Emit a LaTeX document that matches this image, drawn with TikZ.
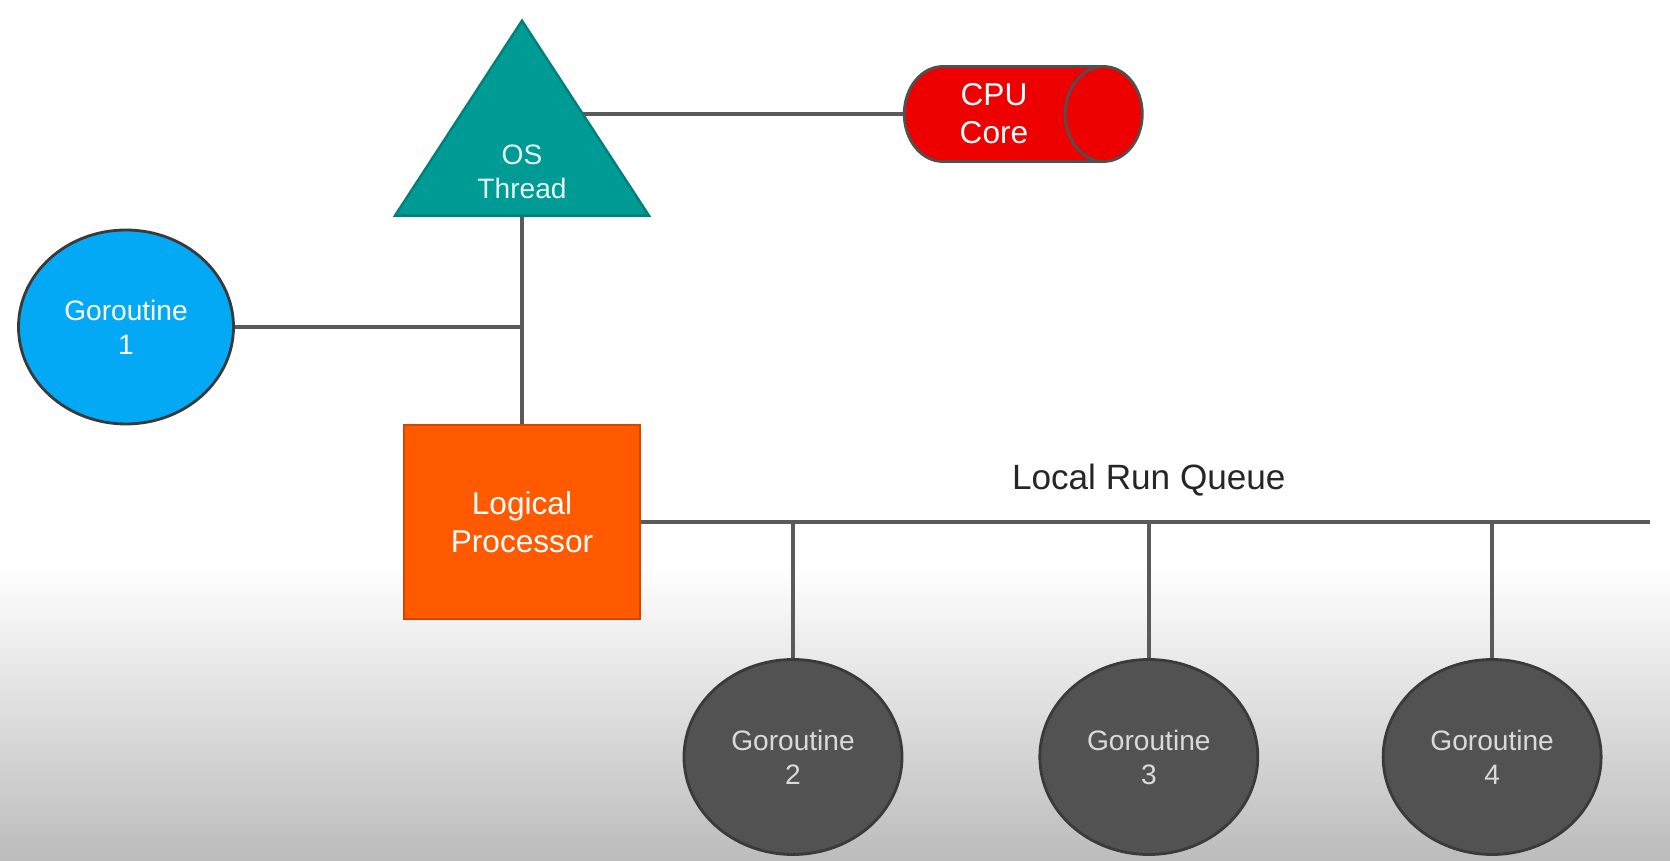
\documentclass[tikz,border=0pt]{standalone}
\usepackage{fontspec}
\setmainfont{Liberation Sans}
\usepackage{xcolor}
\usetikzlibrary{shapes,positioning,calc,backgrounds}

\definecolor{wireGray}{HTML}{5A5A5A}
\definecolor{bgGray}{HTML}{BCBCBC}
\definecolor{goGray}{HTML}{525252}
\definecolor{goEdge}{HTML}{3A3A3A}
\definecolor{goText}{HTML}{DADADA}
\definecolor{goBlue}{HTML}{03A9F4}
\definecolor{threadTeal}{HTML}{009B95}
\definecolor{threadEdge}{HTML}{00807A}
\definecolor{coreRed}{HTML}{EE0000}
\definecolor{coreEdge}{HTML}{505050}
\definecolor{procOrange}{HTML}{FF5A00}
\definecolor{procEdge}{HTML}{D84300}

\begin{document}
\begin{tikzpicture}[
    wire/.style={draw=wireGray, line width=2.3pt},
    goroutine/.style={ellipse, draw=goEdge, line width=1.6pt, fill=goGray, text=goText, minimum width=4.36cm, minimum height=3.9cm, align=center, font=\fontsize{16}{19.3}\selectfont},
    running/.style={goroutine, draw=goEdge, fill=goBlue, text=white, minimum width=4.3cm, minimum height=3.88cm},
    osthread/.style={isosceles triangle, isosceles triangle stretches, shape border rotate=90, draw=threadEdge, line width=1.4pt, fill=threadTeal, minimum width=5.08cm, minimum height=3.9cm, inner sep=0pt},
    threadtext/.style={text=white!90!threadTeal, align=center, font=\fontsize{16}{19.3}\selectfont},
    core/.style={cylinder, draw=coreEdge, line width=1.6pt, fill=coreRed, text=white, aspect=1.07, inner xsep=0.71cm, minimum width=1.9cm, align=center, font=\fontsize{18}{21.6}\selectfont},
    processor/.style={rectangle, draw=procEdge, line width=1.2pt, fill=procOrange, text=white, minimum width=4.72cm, minimum height=3.88cm, align=center, font=\fontsize{18}{21.8}\selectfont},
    queuelabel/.style={font=\fontsize{20}{24}\selectfont, text=black!85}
]
    \useasboundingbox (0,0) rectangle (33.4,17.2);

    \node[processor] (lp) at (10.44,6.76) {Logical\\Processor};
    \node[osthread, above=4.14cm of lp] (thread) {};
    \node[threadtext] (threadlbl) at ([yshift=-0.5cm]thread.center) {OS\\Thread};
    \node[running] (g1) at (2.52,10.66) {Goroutine\\1};
    \node[core] (cpu) at (19.88,14.92) {CPU\\Core};

    \node[goroutine] (g2) at (15.86,2.06) {Goroutine\\2};
    \node[goroutine, right=2.70cm of g2] (g3) {Goroutine\\3};
    \node[goroutine, right=2.45cm of g3] (g4) {Goroutine\\4};

    \coordinate (qend) at (33.0,6.76);
    \coordinate (q2) at (g2 |- lp);
    \coordinate (q3) at (g3 |- lp);
    \coordinate (q4) at (g4 |- lp);
    \node[queuelabel, above=0.4cm of q3] (queue) {Local Run Queue};

    \begin{scope}[on background layer]
        \fill[white] (0,0) rectangle (33.4,17.2);
        \shade[top color=white, bottom color=bgGray] (0,0) rectangle (33.4,5.9);

        \draw[wire] (cpu.west) -- (cpu.west -| thread);
        \draw[wire] (thread) -- (lp);
        \draw[wire] (g1) -- (g1 -| lp);
        \draw[wire] (lp) -- (qend);
        \draw[wire] (q2) -- (g2);
        \draw[wire] (q3) -- (g3);
        \draw[wire] (q4) -- (g4);
    \end{scope}
\end{tikzpicture}
\end{document}
